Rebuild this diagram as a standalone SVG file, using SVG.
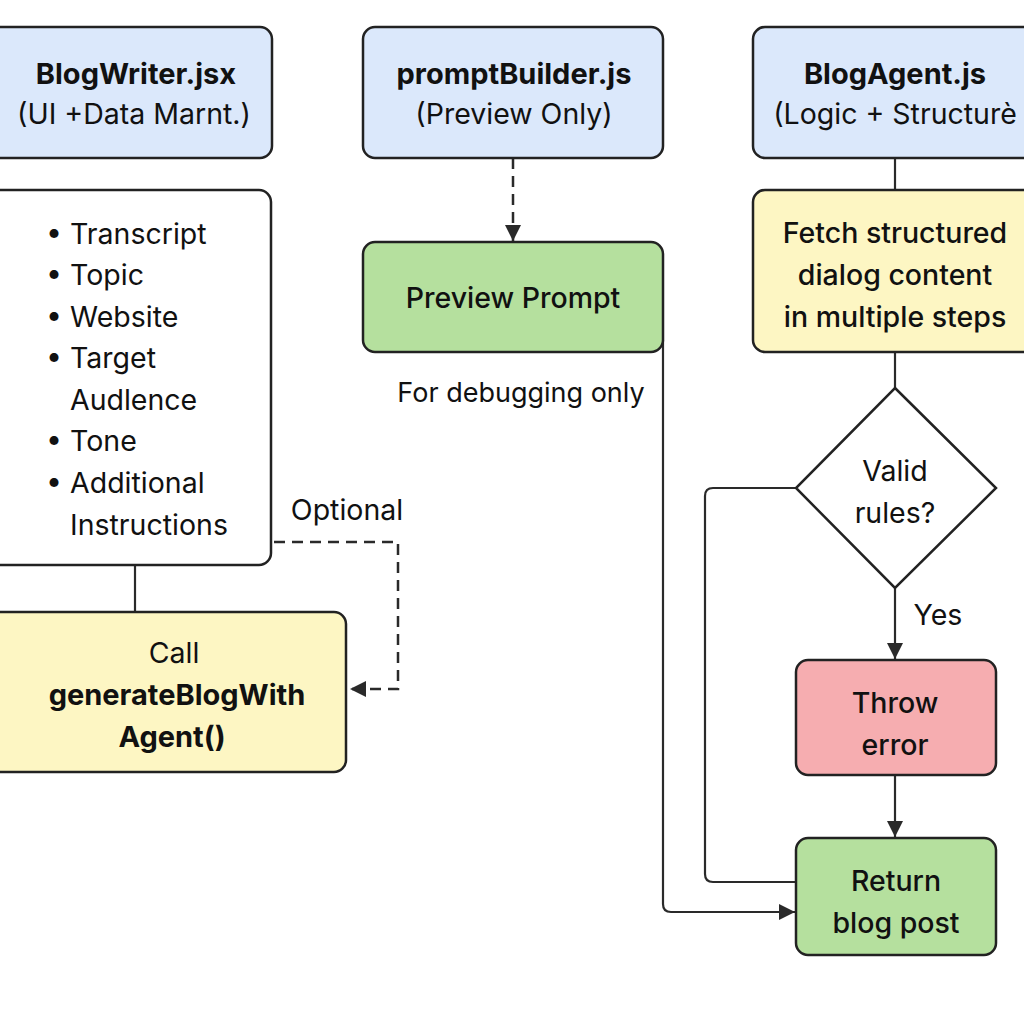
<svg xmlns="http://www.w3.org/2000/svg" width="1024" height="1024" viewBox="0 0 1024 1024">
<defs>
<style>
.box{stroke:#222;stroke-width:2.5}
.blue{fill:#dbe8fb}
.yellow{fill:#fdf6c3}
.green{fill:#b5e09e}
.red{fill:#f6adb0}
.white{fill:#fff}
.t{font-family:Inter,"Liberation Sans",sans-serif;font-size:28.5px;fill:#111;text-anchor:middle}
.b{font-weight:700;font-size:29px}
.m{font-weight:500}
.l{text-anchor:start}
.ln{fill:none;stroke:#2a2a2a;stroke-width:2.2}
.dash{stroke-dasharray:11 7;stroke-width:2.5}
</style>
<marker id="ahl" viewBox="0 0 10 10" refX="10" refY="5" markerWidth="16" markerHeight="16" markerUnits="userSpaceOnUse" orient="auto">
<path d="M0,0 L10,5 L0,10 z" fill="#2a2a2a"/>
</marker>
</defs>
<rect width="1024" height="1024" fill="#fff"/>
<g id="connectors">
<path class="ln" d="M135,565 V612"/>
<path class="ln dash" d="M274,542 H398 V689 H350" marker-end="url(#ahl)"/>
<path class="ln dash" d="M513,158 V241" marker-end="url(#ahl)"/>
<path class="ln" d="M663,340 V904 Q663,912 671,912 H795" marker-end="url(#ahl)"/>
<path class="ln" d="M895,158 V190"/>
<path class="ln" d="M895,352 V388"/>
<path class="ln" d="M796,488 H713 Q705,488 705,496 V874 Q705,882 713,882 H796"/>
<path class="ln" d="M895,588 V659" marker-end="url(#ahl)"/>
<path class="ln" d="M895,775 V837" marker-end="url(#ahl)"/>
</g>
<g id="blogwriter">
<rect class="box blue" x="-12" y="27" width="284" height="131" rx="12"/>
<text class="t b" x="136" y="84">BlogWriter.jsx</text>
<text class="t" x="134" y="124">(UI +Data Marnt.)</text>
</g>
<g id="promptbuilder">
<rect class="box blue" x="363" y="27" width="300" height="131" rx="12"/>
<text class="t b" x="514" y="84">promptBuilder.js</text>
<text class="t" x="514" y="124">(Preview Only)</text>
</g>
<g id="blogagent">
<rect class="box blue" x="753" y="27" width="290" height="131" rx="12"/>
<text class="t b" x="895" y="84">BlogAgent.js</text>
<text class="t" x="895" y="124">(Logic + Structurè</text>
</g>
<g id="inputs">
<rect class="box white" x="-12" y="190" width="283" height="375" rx="12"/>
<g class="t l">
<text x="46" y="244">• Transcript</text>
<text x="46" y="285">• Topic</text>
<text x="46" y="327">• Website</text>
<text x="46" y="368">• Target</text>
<text x="70" y="410">Audlence</text>
<text x="46" y="451">• Tone</text>
<text x="46" y="493">• Additional</text>
<text x="70" y="535">Instructions</text>
</g>
</g>
<g id="call">
<rect class="box yellow" x="-12" y="612" width="358" height="160" rx="12"/>
<text class="t" x="174" y="663">Call</text>
<text class="t b" x="177" y="705">generateBlogWith</text>
<text class="t b" x="172" y="747">Agent()</text>
</g>
<text class="t" x="347" y="520">Optional</text>
<g id="preview">
<rect class="box green" x="363" y="242" width="300" height="110" rx="12"/>
<text class="t m" x="513" y="308">Preview Prompt</text>
</g>
<text class="t" x="521" y="402" style="font-size:27px">For debugging only</text>
<g id="fetch">
<rect class="box yellow" x="753" y="190" width="290" height="162" rx="12"/>
<text class="t m" x="895" y="243">Fetch structured</text>
<text class="t m" x="895" y="285">dialog content</text>
<text class="t m" x="895" y="327">in multiple steps</text>
</g>
<g id="valid">
<path class="box white" d="M895,388 L996,488 L895,588 L796,488 Z"/>
<text class="t" x="895" y="481">Valid</text>
<text class="t" x="895" y="523">rules?</text>
</g>
<text class="t" x="938" y="625">Yes</text>
<g id="throw">
<rect class="box red" x="796" y="660" width="200" height="115" rx="12"/>
<text class="t m" x="895" y="713">Throw</text>
<text class="t m" x="895" y="755">error</text>
</g>
<g id="return">
<rect class="box green" x="796" y="838" width="200" height="117" rx="12"/>
<text class="t m" x="896" y="891">Return</text>
<text class="t m" x="896" y="933">blog post</text>
</g>
</svg>
